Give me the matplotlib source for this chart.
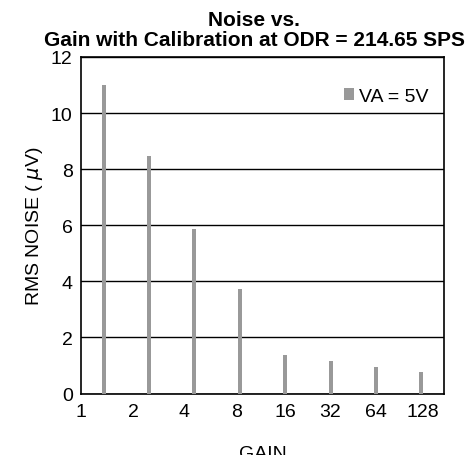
import matplotlib
matplotlib.use("Agg")
import matplotlib.pyplot as plt
import numpy as np

plt.rcParams['font.family'] = ['Liberation Sans', 'DejaVu Sans']

gains = ['1', '2', '4', '8', '16', '32', '64', '128']
noise_5v = [11.0, 8.46, 5.86, 3.72, 1.37, 1.15, 0.94, 0.78]

fig = plt.figure(figsize=(4.72, 4.56), dpi=100)
ax = fig.add_axes([81 / 472, 1 - 394.5 / 456, 363 / 472, 336.5 / 456])

x = np.arange(len(noise_5v)) + 0.5
ax.bar(x, noise_5v, width=0.09, color='#999999', label='VA = 5V', zorder=3)

ax.set_xlim(0, 8)
ax.set_ylim(0, 12)
ax.set_yticks(np.arange(0, 13, 2))
ax.yaxis.grid(True, color='black', linewidth=1.0, zorder=1)
ax.tick_params(axis='y', length=0, labelsize=14, pad=6)

# tick labels sit a bit irregularly in the original
ax.set_xticks([0, 1.15, 2.27, 3.43, 4.5, 5.5, 6.5, 7.53])
ax.set_xticklabels(gains)
ax.tick_params(axis='x', length=0, labelsize=14, pad=7)

for s in ax.spines.values():
    s.set_linewidth(1.2)
    s.set_color('black')

ax.set_xlabel('GAIN', fontsize=14, labelpad=18)
ax.set_ylabel('RMS NOISE ( $\\mu$V)', fontsize=14, labelpad=4)
fig.text(254 / 472, 1 - 11 / 456, 'Noise vs.\nGain with Calibration at ODR = 214.65 SPS',
         fontsize=15, fontweight='bold', ha='center', va='top',
         multialignment='center', linespacing=1.1)

leg = ax.legend(loc='center right', bbox_to_anchor=(0.958, 0.884), frameon=False,
                fontsize=14, handlelength=0.55, handleheight=0.55, handletextpad=0.25,
                borderaxespad=0, borderpad=0)

fig.savefig('out.png', dpi=100)
